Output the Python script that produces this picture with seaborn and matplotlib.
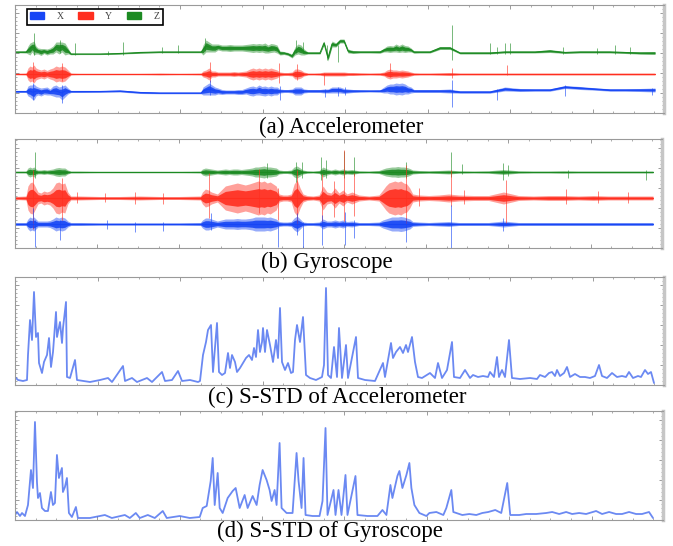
import numpy as np
import matplotlib
matplotlib.use("Agg")
import matplotlib.pyplot as plt
import seaborn as sns
from matplotlib.patches import Patch
from matplotlib.ticker import MultipleLocator

# ---- shared time grid for the raw (noisy) sensor channels ----
env_t = [0, 11, 13, 15, 17, 19, 21, 23, 26, 29, 32, 35, 38, 41, 44, 47, 50, 53, 56, 65,
         85, 105, 125, 145, 165, 186, 188, 191, 194, 197, 200, 203, 207, 211, 215, 219, 223, 227, 231, 235,
         238, 241, 244, 247, 250, 253, 256, 259, 262, 265, 269, 273, 277, 280, 283, 286, 289, 293, 299, 305,
         309, 313, 317, 321, 325, 329, 333, 338, 345, 355, 365, 369, 372, 375, 378, 381, 384, 387, 390, 393,
         396, 399, 405, 415, 425, 435, 445, 460, 475, 490, 505, 520, 535, 550, 565, 580, 595, 610, 625, 640]

# (a) accelerometer: level and half-width of the noise band
acc_z_mid = [61, 61, 63, 64, 66, 65, 63, 62, 61, 62, 61, 62, 63, 66, 65, 66, 64, 62, 59, 59,
             59, 59.5, 60.5, 61, 61, 61, 63, 67, 66, 65, 65, 66, 65, 65, 65, 65, 65, 65, 65, 65,
             65, 65, 65, 65, 65, 64, 65, 65, 64, 60, 60, 59, 57, 62, 64, 63, 61, 60, 60, 60,
             70, 55, 69, 68, 72, 72, 62, 61, 61, 61, 61, 63, 64, 64, 64, 65, 64, 65, 64, 64,
             63, 61, 61, 61, 65, 65, 60, 60, 60, 61, 61, 61, 62, 60.5, 61, 61, 61, 60.5, 60, 60]
acc_z_amp = [0.8, 1, 4, 6, 5, 7, 4, 3, 3.5, 2.5, 3, 3, 4, 5, 6, 5, 6, 3, 0.8, 0.6,
             0.6, 0.6, 0.8, 0.8, 0.8, 0.8, 5, 6, 5, 4, 4, 3, 3, 3, 3.5, 3, 3, 3, 3.5, 4,
             4.5, 4, 4.5, 4, 5, 4, 4.5, 4, 4, 2, 1.5, 1.5, 2, 4, 5, 5, 3, 1, 1, 1,
             2, 3, 3, 2, 2, 2, 2, 1.5, 1, 1, 1.2, 2, 3, 3.5, 3, 4, 3.5, 4, 3.5, 3,
             2, 1.2, 1, 1, 1.5, 1.5, 1, 1, 1, 1, 1, 1, 1.5, 1, 1, 1, 1, 1, 1.2, 1.5]
acc_y_base = 39
acc_y_amp = [0.8, 1, 6, 8, 7, 9, 6, 5, 4, 5, 3.5, 5, 6, 8, 7, 8, 7, 4, 1, 0.8,
             0.8, 0.8, 0.8, 1, 0.8, 1, 3, 4, 6, 3, 3, 2, 2, 2, 2, 2.5, 2, 2.5, 3, 5,
             6, 5, 6, 5, 6, 5, 6, 5, 4, 2, 1.5, 1.5, 2, 5, 5, 4, 2, 1, 1, 1.2,
             2, 2, 2, 2, 2, 2, 1.5, 1.5, 1.2, 1, 1.2, 2, 4, 5, 4, 4, 3.5, 4, 3.5, 3,
             2, 1.2, 1, 1, 1.2, 1.5, 1, 1, 1, 1, 1, 1, 1, 1, 1, 1, 1, 1, 1, 1]
acc_x_mid = [21.5, 21.5, 22, 22, 21, 21, 22, 22, 21, 22, 22, 21, 22, 22, 21, 20, 22, 22, 21.5, 21.5,
             21.5, 22, 20.5, 20, 20, 20, 22, 23, 24, 23, 22, 22, 21, 21, 21, 21, 21, 21, 22, 22,
             22, 22, 23, 22, 22, 22, 22, 22, 22, 22, 22, 22, 22, 22, 22, 22, 22, 22, 22, 22,
             22, 22, 23, 23, 23, 22, 22, 22, 22, 22, 22, 23, 24, 24, 24, 24, 24, 24, 24, 23,
             23, 22, 22, 22, 22, 22, 21, 21, 21, 24, 23, 23, 23, 26, 25, 24, 23, 23, 23, 23]
acc_x_amp = [1, 1, 5, 6, 7, 8, 5, 4, 4, 3.5, 4, 3, 5, 6, 5, 7, 6, 3, 1, 1,
             0.8, 1, 1, 0.8, 0.8, 0.8, 4, 5, 6, 5, 4, 3, 2.5, 2, 2, 2, 2.5, 2.5, 3, 4.5,
             5, 4, 5, 4.5, 5, 4, 5, 4, 4, 2, 1.5, 1.5, 2, 4, 4, 4, 2, 1.5, 1.5, 1.5,
             2, 2, 3, 3, 3, 2.5, 2, 1.5, 1.2, 1, 1.2, 3, 4, 5, 5, 6, 5.5, 6, 5, 4,
             3, 1.5, 1.5, 1.5, 1.5, 2, 1.2, 1.2, 1.2, 2, 1.5, 1.2, 1.2, 1.5, 1.5, 1.2, 1.2, 1.2, 1.5, 2]

# isolated spikes: time, low end, high end
acc_z_sp_t = [19, 45, 60, 93, 108, 147, 163, 190, 281, 288, 312, 323, 437, 475, 482, 490, 495, 548, 582, 600, 615]
acc_z_sp_lo = [58, 60, 58, 58, 58, 60, 60, 62, 60, 60, 53, 51, 53, 59, 59, 59, 59, 59, 59, 59, 59]
acc_z_sp_hi = [80, 73, 70, 62, 71, 66, 68, 75, 73, 71, 68, 68, 88, 70, 66, 70, 70, 66, 65, 68, 66]
acc_y_sp_t = [18, 47, 195, 264, 282, 309, 375, 437, 492]
acc_y_sp_lo = [31, 32, 31, 30, 33, 28, 36, 35, 38]
acc_y_sp_hi = [51, 50, 51, 50, 49, 40, 50, 45, 48]
acc_x_sp_t = [18, 47, 195, 265, 310, 323, 330, 437, 482, 550, 637]
acc_x_sp_lo = [13, 10, 18, 13, 16, 17, 18, 6, 13, 17, 18]
acc_x_sp_hi = [30, 28, 33, 27, 24, 26, 26, 33, 24, 28, 25]

# (b) gyroscope: baselines and half-width of the noise band
gyr_z_base, gyr_y_base, gyr_x_base = 76, 50, 24
gyr_z_amp = [1, 1, 4, 5, 4, 5, 3, 2, 2, 2.5, 2, 2.5, 3, 4, 4.5, 4, 4, 2, 1, 1,
             0.8, 0.8, 0.8, 0.8, 0.8, 1, 3, 4, 3.5, 3, 2.5, 2, 2.5, 3, 2.5, 3, 3, 2.5, 3, 3.5,
             4, 5, 5, 5.5, 6, 5, 5, 4.5, 4, 2, 1.5, 1.5, 2, 5, 6, 4, 2, 1.2, 1, 1.5,
             5, 3, 2, 3, 2, 3, 2, 2.5, 1.2, 1, 1.5, 3, 4, 4.5, 5, 5, 5.5, 5, 5, 4.5,
             3.5, 2, 1.5, 1.2, 1.5, 2, 1.2, 1, 1.2, 2.5, 1.2, 1, 1, 1.2, 1, 1, 1, 1, 1, 1]
gyr_y_amp = [1.5, 2, 12, 15, 16, 14, 10, 6, 5, 7, 6, 7, 10, 15, 16, 14, 15, 6, 2, 2,
             1.5, 1.5, 2, 1.5, 1.5, 2, 6, 9, 8, 6, 5, 4, 8, 12, 13, 14, 15, 14, 13, 14,
             15, 16, 17, 16, 17, 15, 16, 14, 12, 4, 3, 3, 4, 14, 18, 10, 4, 2.5, 2, 3,
             12, 6, 5, 10, 5, 8, 4, 6, 3, 2, 3, 8, 12, 15, 16, 17, 16, 17, 15, 14,
             10, 4, 3, 2.5, 3, 4, 3, 2.5, 2.5, 6, 2.5, 2, 2.5, 2.5, 2, 2.5, 2, 2, 2, 2]
gyr_x_amp = [1.5, 1.5, 5, 7, 6, 7, 5, 3, 3, 3, 3, 3.5, 5, 7, 6, 7, 6, 3, 1.5, 1.5,
             1.2, 1.2, 1.2, 1.2, 1.2, 1.5, 4, 6, 6, 5, 4, 3, 4, 5, 5, 5, 5.5, 5, 5, 5.5,
             6, 7, 7, 7, 7, 6.5, 7, 6, 5, 2.5, 2, 2, 2.5, 6, 8, 5, 2, 1.5, 1.5, 2,
             5, 3, 3, 4, 3, 4, 2.5, 3, 1.5, 1.5, 2, 4, 5, 6, 7, 7, 7, 7.5, 7, 6,
             5, 2.5, 2, 1.5, 2, 2.5, 1.5, 1.5, 1.5, 3, 1.5, 1.5, 1.5, 1.5, 1.5, 1.5, 1.5, 1.5, 1.5, 1.5]

gyr_z_sp_t = [20, 253, 282, 288, 307, 312, 330, 340, 392, 437, 448, 490, 495, 555, 633]
gyr_z_sp_lo = [70, 70, 66, 70, 68, 70, 70, 72, 70, 71, 74, 68, 72, 70, 68]
gyr_z_sp_hi = [96, 85, 86, 86, 91, 88, 97, 91, 86, 96, 84, 85, 83, 78, 78]
gyr_y_sp_t = [18, 47, 62, 90, 120, 148, 195, 245, 264, 283, 308, 320, 330, 340, 392, 405, 437, 450, 493, 553, 585, 615]
gyr_y_sp_lo = [19, 28, 45, 46, 44, 44, 30, 35, 28, 23, 27, 31, 27, 32, 24, 42, 42, 44, 25, 44, 45, 45]
gyr_y_sp_hi = [78, 70, 56, 55, 56, 55, 75, 79, 60, 78, 74, 67, 98, 75, 83, 60, 78, 58, 68, 59, 57, 56]
gyr_x_sp_t = [18, 20, 45, 92, 120, 148, 197, 264, 283, 289, 308, 331, 340, 392, 437, 490]
gyr_x_sp_lo = [20, 1, 8, 19, 16, 17, 18, 1, 13, 0, 3, 3, 10, 6, 0, 17]
gyr_x_sp_hi = [40, 28, 28, 28, 26, 26, 35, 26, 35, 26, 33, 36, 28, 30, 43, 30]

# (c) S-STD of accelerometer
sstd_acc_t = [0, 3, 8, 12, 13, 15, 17, 19, 21, 23, 24, 27, 29, 32, 34, 36, 38, 41, 42, 45,
              47, 48, 51, 52, 55, 60, 62, 75, 85, 93, 97, 108, 110, 117, 122, 132, 137, 142, 147, 150,
              157, 163, 167, 175, 183, 185, 188, 191, 193, 196, 198, 202, 204, 207, 210, 213, 215, 217, 220, 222,
              225, 228, 231, 234, 237, 239, 241, 243, 245, 247, 248, 250, 252, 255, 258, 261, 263, 265, 267, 270,
              273, 276, 278, 280, 282, 285, 288, 291, 295, 301, 307, 309, 311, 313, 316, 319, 322, 324, 327, 331,
              333, 341, 343, 350, 360, 368, 370, 376, 378, 381, 385, 388, 391, 393, 397, 400, 403, 407, 415, 420,
              423, 427, 432, 437, 439, 445, 450, 455, 458, 463, 468, 473, 475, 479, 482, 484, 487, 490, 494, 497,
              505, 515, 522, 525, 530, 534, 537, 540, 542, 545, 549, 552, 555, 560, 565, 570, 575, 580, 584, 587,
              592, 597, 602, 607, 611, 614, 618, 623, 626, 630, 633, 636, 639]
sstd_acc = [8, 5, 4, 5, 30, 65, 45, 93, 48, 52, 22, 12, 23, 30, 47, 18, 33, 73, 48, 63,
            42, 57, 83, 8, 7, 25, 5, 3, 5, 7, 3, 19, 4, 7, 3, 7, 3, 8, 13, 4,
            5, 14, 4, 5, 3, 4, 30, 43, 55, 60, 13, 62, 13, 10, 12, 32, 17, 30, 23, 13,
            17, 22, 27, 30, 25, 37, 28, 55, 33, 43, 57, 33, 55, 40, 23, 45, 27, 77, 23, 15,
            22, 12, 13, 45, 60, 43, 68, 10, 7, 5, 8, 20, 97, 10, 7, 38, 8, 57, 7, 40,
            7, 48, 7, 5, 4, 22, 8, 42, 27, 33, 38, 32, 40, 33, 48, 23, 8, 7, 12, 7,
            22, 7, 15, 43, 8, 7, 15, 7, 10, 8, 9, 8, 13, 8, 28, 8, 15, 8, 45, 7,
            6, 7, 6, 10, 8, 12, 13, 9, 15, 9, 12, 18, 8, 11, 8, 8, 7, 9, 20, 9,
            7, 12, 8, 9, 8, 13, 7, 9, 8, 15, 11, 13, 2]

# (d) S-STD of gyroscope
sstd_gyr_t = [0, 2, 5, 7, 10, 13, 16, 18, 20, 22, 23, 25, 27, 30, 33, 36, 38, 40, 42, 44,
              47, 48, 50, 52, 54, 57, 61, 63, 75, 90, 97, 110, 115, 121, 125, 133, 140, 148, 152, 165,
              175, 185, 188, 192, 196, 198, 200, 203, 205, 208, 213, 218, 221, 225, 230, 233, 238, 242, 245, 248,
              252, 255, 257, 260, 262, 265, 267, 272, 278, 282, 284, 287, 289, 291, 298, 305, 308, 311, 313, 319,
              321, 324, 327, 331, 333, 341, 343, 353, 363, 368, 372, 376, 378, 383, 385, 388, 392, 395, 397, 400,
              405, 412, 415, 422, 429, 432, 437, 439, 442, 448, 455, 462, 468, 474, 481, 485, 487, 493, 496, 505,
              512, 522, 532, 538, 545, 552, 558, 565, 572, 582, 588, 595, 602, 608, 615, 622, 628, 635, 639]
sstd_gyr = [5, 8, 4, 7, 4, 15, 50, 32, 98, 38, 22, 27, 12, 9, 9, 28, 15, 17, 65, 42,
            52, 28, 33, 42, 7, 3, 13, 2, 2, 5, 2, 5, 2, 7, 2, 5, 2, 9, 2, 4,
            2, 3, 12, 14, 39, 62, 15, 47, 12, 7, 22, 29, 32, 12, 25, 12, 24, 15, 35, 50,
            40, 30, 19, 30, 15, 77, 12, 7, 7, 67, 39, 12, 62, 5, 4, 4, 19, 92, 5, 30,
            5, 30, 5, 45, 5, 44, 5, 4, 4, 10, 5, 35, 22, 44, 49, 32, 45, 57, 32, 15,
            7, 4, 7, 8, 5, 12, 30, 8, 7, 5, 6, 5, 7, 8, 10, 8, 7, 37, 5, 5,
            6, 6, 7, 8, 6, 8, 6, 7, 6, 9, 6, 8, 6, 6, 8, 6, 6, 8, 2]

legend_labels = ["X", "Y", "Z"]
captions = ["(a) Accelerometer", "(b) Gyroscope",
            "(c) S-STD of Accelerometer", "(d) S-STD of Gyroscope"]

BLUE, RED, GREEN = "#1746f5", "#ff2e1f", "#1c8a22"
LINE_BLUE = "#3a62ee"

sns.set_theme(style="white")
plt.rcParams["font.family"] = ["Liberation Serif", "DejaVu Serif"]

fig = plt.figure(figsize=(6.73, 5.46), dpi=100)
W, H = 673, 546
env_t = np.asarray(env_t, dtype=float)


def make_axes(left, top, right, bottom):
    """Axes placed from pixel edges of the original layout."""
    return fig.add_axes([left / W, 1 - bottom / H, (right - left) / W, (bottom - top) / H])


def style_axes(ax, ymax):
    ax.set_xlim(0, 649)
    ax.set_ylim(0, ymax)
    ax.xaxis.set_major_locator(MultipleLocator(82.5))
    ax.xaxis.set_minor_locator(MultipleLocator(82.5 / 4))
    ax.yaxis.set_major_locator(MultipleLocator(20))
    ax.yaxis.set_minor_locator(MultipleLocator(4))
    ax.tick_params(which="both", direction="in", top=True, right=True, bottom=True, left=True,
                   labelbottom=False, labelleft=False, colors="#8c8c8c")
    ax.tick_params(which="major", length=3, width=0.6)
    ax.tick_params(which="minor", length=1.5, width=0.5)
    for s in ax.spines.values():
        s.set_color("#9a9a9a")
        s.set_linewidth(0.8)
    ax.spines["right"].set_color("#c6c6c6")
    ax.spines["right"].set_linewidth(2.5)
    ax.set_xlabel("")
    ax.set_ylabel("")


def draw_channel(ax, mid, amp, sp_t, sp_lo, sp_hi, color):
    mid = np.broadcast_to(np.asarray(mid, dtype=float), env_t.shape)
    amp = np.asarray(amp, dtype=float)
    # pale outer fringe of the noise, denser core
    ax.fill_between(env_t, mid - amp, mid + amp, color=color, lw=0, alpha=0.45)
    ax.fill_between(env_t, mid - 0.55 * amp, mid + 0.55 * amp, color=color, lw=0, alpha=0.9)
    sns.lineplot(x=env_t, y=mid, ax=ax, color=color, lw=0.8, estimator=None)
    ax.vlines(sp_t, sp_lo, sp_hi, color=color, lw=0.7, alpha=0.6)


# (a) accelerometer
ax_a = make_axes(15, 5, 664, 113)
draw_channel(ax_a, acc_z_mid, acc_z_amp, acc_z_sp_t, acc_z_sp_lo, acc_z_sp_hi, GREEN)
draw_channel(ax_a, acc_y_base, acc_y_amp, acc_y_sp_t, acc_y_sp_lo, acc_y_sp_hi, RED)
draw_channel(ax_a, acc_x_mid, acc_x_amp, acc_x_sp_t, acc_x_sp_lo, acc_x_sp_hi, BLUE)
style_axes(ax_a, 108)
handles = [Patch(facecolor=c, edgecolor=c) for c in (BLUE, RED, GREEN)]
leg = ax_a.legend(handles, legend_labels, loc="upper left", bbox_to_anchor=(0.018, 0.965),
                  borderaxespad=0, ncol=3, fontsize=7, handlelength=1.45, handleheight=0.75,
                  handletextpad=1.3, columnspacing=1.5, borderpad=0.35, fancybox=False,
                  framealpha=1, edgecolor="black")
leg.get_frame().set_linewidth(1.2)
for t in leg.get_texts():
    t.set_color("#444444")

# (b) gyroscope
ax_b = make_axes(15, 139, 662, 248)
draw_channel(ax_b, gyr_z_base, gyr_z_amp, gyr_z_sp_t, gyr_z_sp_lo, gyr_z_sp_hi, GREEN)
draw_channel(ax_b, gyr_y_base, gyr_y_amp, gyr_y_sp_t, gyr_y_sp_lo, gyr_y_sp_hi, RED)
draw_channel(ax_b, gyr_x_base, gyr_x_amp, gyr_x_sp_t, gyr_x_sp_lo, gyr_x_sp_hi, BLUE)
style_axes(ax_b, 109)

# (c) and (d) sliding standard deviation
ax_c = make_axes(15, 277, 664, 385)
sns.lineplot(x=sstd_acc_t, y=sstd_acc, ax=ax_c, color=LINE_BLUE, lw=1.3, alpha=0.75, estimator=None)
style_axes(ax_c, 108)

ax_d = make_axes(15, 411, 663, 520)
sns.lineplot(x=sstd_gyr_t, y=sstd_gyr, ax=ax_d, color=LINE_BLUE, lw=1.3, alpha=0.75, estimator=None)
style_axes(ax_d, 109)

# captions under each panel
for text, (cx, cy) in zip(captions, [(341, 127), (327, 262), (337, 397), (330, 531)]):
    fig.text(cx / W, 1 - cy / H, text, ha="center", va="center", fontsize=16.5, color="black")

fig.savefig("out.png", dpi=100)
